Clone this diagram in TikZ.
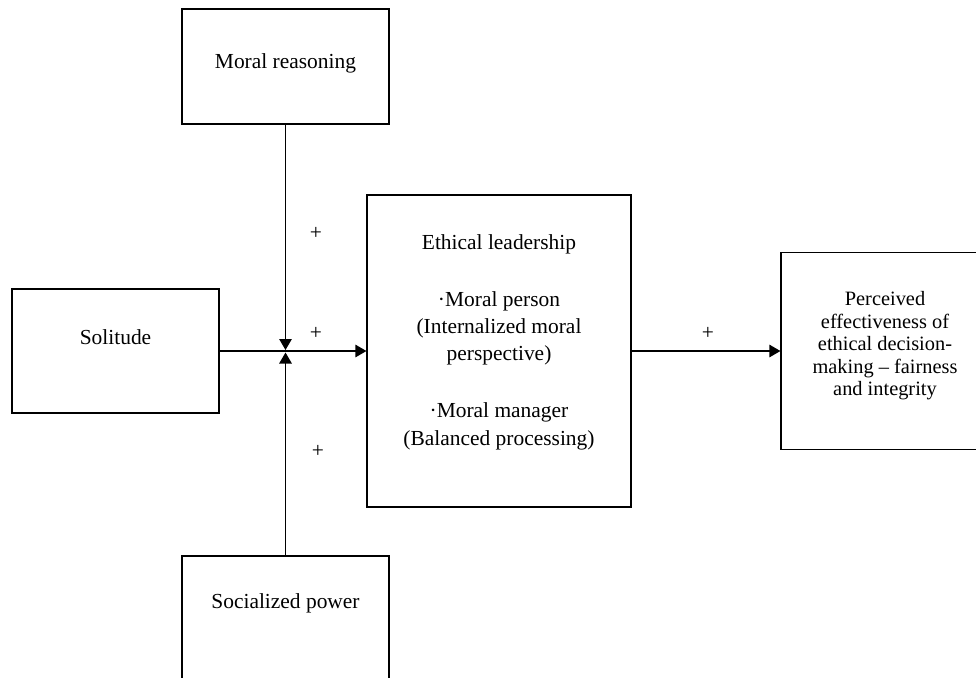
\documentclass[tikz,border=0pt]{standalone}
\usepackage{fontspec}
\setmainfont{Liberation Serif}
\usetikzlibrary{arrows.meta, positioning}
\tikzset{
    box/.style={rectangle, draw, line width=0.7pt, inner sep=0pt},
    txt/.style={align=center, font=\fontsize{12.2}{15.5}\selectfont},
    smalltxt/.style={align=center, font=\fontsize{11.6}{12.8}\selectfont},
    sign/.style={font=\fontsize{12.2}{14}\selectfont},
    flow/.style={-{Triangle[length=0.22cm, width=0.25cm]}, line width=0.7pt}
}

\begin{document}
\begin{tikzpicture}[x=0.02cm, y=-0.02cm]
    \clip (0,0) rectangle (976,677);

    % Moral reasoning
    \node[box, minimum width=4.14cm, minimum height=2.3cm] (reasoning) at (285.5,66.5) {};
    \node[txt] (reasoning_text) at (285.5,63) {Moral reasoning};

    % Solitude
    \node[box, minimum width=4.14cm, minimum height=2.48cm] (solitude) at (115.5,351) {};
    \node[txt] (solitude_text) at (115.5,337) {Solitude};

    % Socialized power
    \node[box, minimum width=4.14cm, minimum height=2.48cm] (socialized) at (285.5,618) {};
    \node[txt] (socialized_text) at (285.5,603) {Socialized power};

    % Ethical leadership
    \node[box, minimum width=5.28cm, minimum height=6.24cm] (ethical) at (499,351) {};
    \node[txt] (ethical_text) at (499,342) {Ethical leadership\\[17pt]
        ·Moral person\\ (Internalized moral\\ perspective)\\[17pt]
        ·Moral manager\\ (Balanced processing)};

    % Perceived effectiveness
    \node[box, minimum width=4.16cm, minimum height=3.94cm] (perceived) at (885,351) {};
    \node[smalltxt] (perceived_text) at (885,346) {Perceived\\ effectiveness of\\
        ethical decision-\\ making -- fairness\\ and integrity};

    % Meeting point
    \coordinate (meet_top) at (285.5,350);
    \coordinate (meet_bottom) at (285.5,352.5);

    % Signs
    \node[sign] (plus_top) at (316,233) {+};
    \node[sign] (plus_left) at (316,333) {+};
    \node[sign] (plus_bottom) at (318,451) {+};
    \node[sign] (plus_right) at (708,333) {+};

    % Flows
    \draw[flow] (reasoning.south) -- (meet_top);
    \draw[flow] (socialized.north) -- (meet_bottom);
    \draw[flow] (solitude.east) -- (ethical.west);
    \draw[flow] (ethical.east) -- (perceived.west);
\end{tikzpicture}
\end{document}
